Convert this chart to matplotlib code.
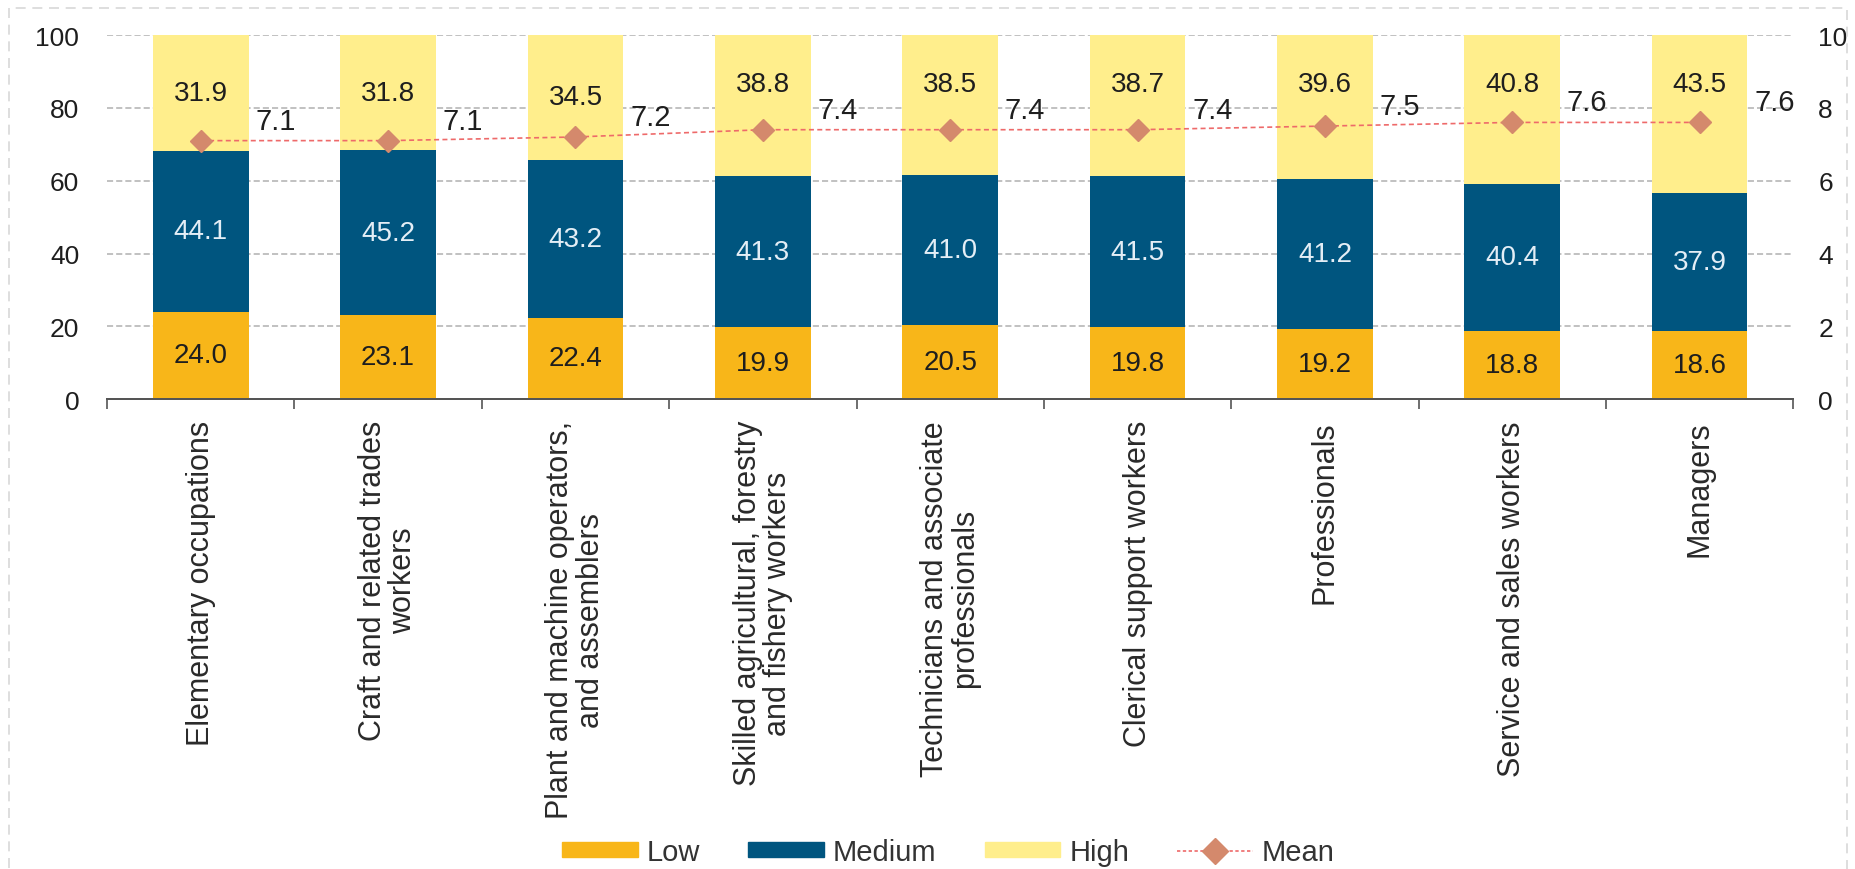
import matplotlib.pyplot as plt
from matplotlib.patches import Rectangle
from matplotlib.lines import Line2D
from matplotlib.ticker import FixedLocator
import numpy as np

plt.rcParams['font.family'] = ['Liberation Sans', 'DejaVu Sans']

categories = [
    'Elementary occupations',
    'Craft and related trades\nworkers',
    'Plant and machine operators,\nand assemblers',
    'Skilled agricultural, forestry\nand fishery workers',
    'Technicians and associate\nprofessionals',
    'Clerical support workers',
    'Professionals',
    'Service and sales workers',
    'Managers',
]
low = [24.0, 23.1, 22.4, 19.9, 20.5, 19.8, 19.2, 18.8, 18.6]
medium = [44.1, 45.2, 43.2, 41.3, 41.0, 41.5, 41.2, 40.4, 37.9]
high = [31.9, 31.8, 34.5, 38.8, 38.5, 38.7, 39.6, 40.8, 43.5]
mean = [7.1, 7.1, 7.2, 7.4, 7.4, 7.4, 7.5, 7.6, 7.6]

c_low = '#F8B619'
c_med = '#00557F'
c_high = '#FFEE8C'
c_mark = '#D4896C'
c_line = '#EE6A6A'

fig = plt.figure(figsize=(18.56, 8.70), dpi=100)
ax = fig.add_axes([0.0577, 0.540, 0.9085, 0.4186])
ax2 = ax.twinx()

x = np.arange(len(categories))
w = 0.51
low = np.array(low)
medium = np.array(medium)
high = np.array(high)

ax.set_axisbelow(True)
ax.bar(x, low, w, color=c_low, zorder=2)
ax.bar(x, medium, w, bottom=low, color=c_med, zorder=2)
ax.bar(x, high, w, bottom=low + medium, color=c_high, zorder=2)

for i in range(len(x)):
    ax.text(x[i], low[i] / 2, f'{low[i]:.1f}', ha='center', va='center',
            fontsize=20, color='#1e1e1e', zorder=3)
    ax.text(x[i], low[i] + medium[i] / 2, f'{medium[i]:.1f}', ha='center', va='center',
            fontsize=20, color='#e4eef6', zorder=3)
    # labels in the high segment are pushed up above the mean marker when needed
    yh = low[i] + medium[i] + high[i] / 2
    if yh < 82:
        yh = 86.5
    ax.text(x[i], yh, f'{high[i]:.1f}', ha='center', va='center',
            fontsize=20, color='#1e1e1e', zorder=3)

ax2.plot(x, mean, linestyle=(0, (3, 2)), color=c_line, lw=1.2, marker='D',
         markersize=11, markerfacecolor=c_mark, markeredgecolor=c_mark, zorder=4)
for i in range(len(x)):
    ax2.text(x[i] + 0.4, mean[i] + 0.55, f'{mean[i]:.1f}', ha='center', va='center',
             fontsize=21, color='#1e1e1e')

ax.set_xlim(-0.5, len(categories) - 0.5)
ax.set_ylim(0, 100)
ax2.set_ylim(0, 10)
ax.set_yticks(range(0, 101, 20))
ax2.set_yticks(range(0, 11, 2))
ax.yaxis.grid(True, linestyle=(0, (4, 2)), color='#b0b0b0', lw=1.1)

ax.set_xticks(x)
ax.set_xticklabels(categories, rotation=90, ha='center', va='top', fontsize=22,
                   linespacing=1.02, color='#2a2a2a')
ax.xaxis.set_minor_locator(FixedLocator(np.arange(-0.5, len(categories), 1)))
ax.tick_params(axis='x', which='major', length=0, pad=15)
ax.tick_params(axis='x', which='minor', length=7, width=1.2, color='#555555')
ax.tick_params(axis='y', length=0, pad=20, labelsize=19, labelcolor='#1e1e1e')
ax2.tick_params(axis='y', length=0, pad=18, labelsize=19, labelcolor='#1e1e1e')

for a in (ax, ax2):
    for s in ('top', 'left', 'right'):
        a.spines[s].set_visible(False)
    a.spines['bottom'].set_color('#555555')
    a.spines['bottom'].set_linewidth(1.4)

handles = [
    Rectangle((0, 0), 1, 1, color=c_low),
    Rectangle((0, 0), 1, 1, color=c_med),
    Rectangle((0, 0), 1, 1, color=c_high),
    Line2D([0], [0], linestyle=(0, (2, 1.5)), color=c_line, lw=1.2, marker='D',
           markersize=13, markerfacecolor=c_mark, markeredgecolor=c_mark),
]
fig.legend(handles, ['Low', 'Medium', 'High', 'Mean'], loc='center left',
           bbox_to_anchor=(0.303, 0.0195), ncol=4, frameon=False, fontsize=21,
           handlelength=2.6, handleheight=0.4, handletextpad=0.3,
           columnspacing=1.65, borderpad=0, borderaxespad=0, labelcolor='#333333')

fig.patches.append(Rectangle((0.005, -0.01), 0.99, 1.0, transform=fig.transFigure,
                             fill=False, edgecolor='#d8d8d8', linestyle=(0, (6, 4)),
                             lw=1.2))

fig.savefig('out.png', dpi=100)
